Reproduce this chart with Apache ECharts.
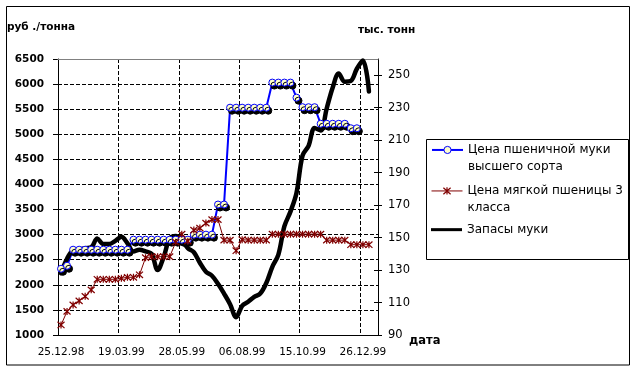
<!DOCTYPE html>
<html><head><meta charset="utf-8">
<script src="https://cdn.jsdelivr.net/npm/echarts@6/dist/echarts.min.js"></script>
<style>html,body{margin:0;padding:0;background:#fff}#c{width:640px;height:373px}</style>
</head><body><div id="c"></div>
<script>
// Tick labels of the category axis (one every 10 categories)
const dateLabels = ['25.12.98', '19.03.99', '28.05.99', '06.08.99', '15.10.99', '26.12.99'];
const categoryCount = 53;
const categories = Array.from({length: categoryCount}, (_, i) => String(i));

// Series names
const nameFlour = 'Цена пшеничной муки высшего сорта';
const nameWheat = 'Цена мягкой пшеницы 3 класса';
const nameStock = 'Запасы муки';

// руб./тонна (left axis)
const flourPrice = [
  2320, 2380,
  2700, 2700, 2700, 2700, 2700, 2700, 2700, 2700, 2700, 2700,
  2900, 2900, 2900, 2900, 2900, 2900, 2900, 2900, 2900, 2900,
  3000, 3000, 3000, 3000,
  3600, 3600,
  5530, 5530, 5530, 5530, 5530, 5530, 5530,
  6030, 6030, 6030, 6030,
  5730,
  5540, 5540, 5540,
  5210, 5210, 5210, 5210, 5210,
  5120, 5120
];
const wheatPrice = [
  1200, 1470, 1600, 1680, 1770, 1900, 2110, 2110, 2110, 2110,
  2130, 2150, 2150, 2200, 2540, 2560, 2560, 2560, 2560, 2850,
  3010, 2870, 3090, 3130, 3230, 3300, 3300, 2890, 2890, 2680,
  2900, 2890, 2890, 2890, 2890,
  3010, 3010, 3010, 3010, 3010, 3010, 3010, 3010, 3010,
  2890, 2890, 2890, 2890,
  2800, 2800, 2800, 2800
];
// тыс. тонн (right axis)
const flourStocks = [
  128, 137, 142, 142.5, 143.5, 144, 149.5, 146, 146, 148,
  150.5, 146.5, 141.5, 142.5, 141.5, 140, 130, 138, 149.5, 151,
  148.5, 143.5, 141, 134.5, 129, 126.5, 121.5, 115.5, 109, 101,
  108, 110.5, 113.5, 115.5, 122, 132, 139.5, 157, 166, 177.5,
  200.5, 206.5, 217.5, 216, 229.5, 242.5, 251, 246, 246.5, 254,
  259, 240
];
const rightTickValues = [90, 110, 130, 150, 170, 190, 210, 230, 250];

const FONT = '"DejaVu Sans", Verdana, sans-serif';
const starPath = 'path://M5,0L5,10M0.5,0.5L9.5,9.5M0.5,9.5L9.5,0.5';

const chart = echarts.init(document.getElementById('c'), null, {renderer: 'canvas', width: 640, height: 373});

const legendText = {
  [nameFlour]: '\nЦена пшеничной муки\nвысшего сорта',
  [nameWheat]: '\nЦена мягкой пшеницы 3\nкласса',
  [nameStock]: 'Запасы муки'
};
const legendTextStyle = {fontFamily: FONT, fontSize: 12, lineHeight: 17.3, color: '#000'};
const noShadow = {shadowColor: 'rgba(0,0,0,0)', shadowBlur: 0, shadowOffsetX: 0, shadowOffsetY: 0};
const gridLineStyle = {color: '#000000', width: 1, type: 'dashed', dashOffset: 0, opacity: 1};

chart.setOption({
  animation: false,
  backgroundColor: '#fff',
  textStyle: {fontFamily: FONT},
  grid: {left: 58, top: 59, width: 320, height: 276},
  graphic: [
    {type: 'rect', silent: true, shape: {x: 6.5, y: 6.5, width: 623, height: 358.5},
     style: {fill: null, stroke: '#000', lineWidth: 1}},
    {type: 'rect', silent: true, shape: {x: 426.5, y: 139.5, width: 202, height: 120},
     style: {fill: '#fff', stroke: '#000', lineWidth: 1}},
    {type: 'text', style: {x: 7, y: 27.5, text: 'руб ./тонна', font: 'bold 10.5px ' + FONT, fill: '#000', verticalAlign: 'middle'}},
    {type: 'text', style: {x: 358, y: 30.5, text: 'тыс. тонн', font: 'bold 10.5px ' + FONT, fill: '#000', verticalAlign: 'middle'}},
    {type: 'text', style: {x: 409, y: 341.5, text: 'дата', font: 'bold 11.5px ' + FONT, fill: '#000', verticalAlign: 'middle'}}
  ],
  legend: [
    {data: [nameFlour], left: 431, top: 124, padding: 0, itemWidth: 31, itemHeight: 9,
     selectedMode: false, formatter: n => legendText[n], textStyle: legendTextStyle,
     lineStyle: {width: 2}, itemStyle: Object.assign({borderWidth: 1}, noShadow)},
    {data: [nameWheat], left: 431, top: 165, padding: 0, itemWidth: 31, itemHeight: 9,
     selectedMode: false, formatter: n => legendText[n], textStyle: legendTextStyle,
     lineStyle: {width: 1}, itemStyle: Object.assign({borderWidth: 1.2}, noShadow)},
    {data: [{name: nameStock, icon: 'rect'}], left: 431, top: 221, padding: 0, itemWidth: 31, itemHeight: 3,
     selectedMode: false, formatter: n => legendText[n], textStyle: legendTextStyle,
     itemStyle: noShadow}
  ],
  xAxis: [
    {
      type: 'category', data: categories, boundaryGap: true, position: 'bottom',
      axisLine: {lineStyle: {color: '#000', width: 1}},
      axisTick: {show: false},
      axisLabel: {interval: 9, margin: 12, color: '#000', fontSize: 10.5, fontFamily: FONT,
        formatter: (v, i) => dateLabels[Math.round(i / 10)] || ''},
      splitLine: {show: true, interval: 9, lineStyle: gridLineStyle}
    },
    {
      type: 'value', position: 'top', min: 0, max: 1, z: 3,
      axisLine: {show: true, onZero: false, lineStyle: {color: '#808080', width: 1}},
      axisTick: {show: false}, axisLabel: {show: false}, splitLine: {show: false}
    }
  ],
  yAxis: [
    {
      type: 'value', position: 'left', min: 1000, max: 6500, interval: 500,
      axisLine: {show: true, lineStyle: {color: '#000', width: 1}},
      axisTick: {show: true, length: 5, lineStyle: {color: '#000'}},
      axisLabel: {margin: 14, color: '#000', fontSize: 10.5, fontWeight: 'bold', fontFamily: FONT,
        formatter: v => String(v)},
      splitLine: {show: true, lineStyle: gridLineStyle}
    },
    {
      type: 'value', position: 'right', min: 90, max: 260,
      axisLine: {show: true, lineStyle: {color: '#000', width: 1}},
      axisTick: {show: true, length: 4, customValues: rightTickValues, lineStyle: {color: '#000'}},
      axisLabel: {margin: 10, color: '#000', fontSize: 11.5, fontFamily: FONT, customValues: rightTickValues},
      splitLine: {show: false}
    },
    {
      type: 'value', position: 'right', min: 90, max: 260,
      axisLine: {show: false},
      axisTick: {show: true, inside: true, length: 4, customValues: rightTickValues, lineStyle: {color: '#000'}},
      axisLabel: {show: false},
      splitLine: {show: false}
    }
  ],
  series: [
    {
      name: nameFlour, type: 'line', xAxisIndex: 0, yAxisIndex: 0, data: flourPrice,
      symbol: 'circle', symbolSize: 7, showAllSymbol: true,
      lineStyle: {color: '#0000FF', width: 2},
      itemStyle: {color: '#FFFFCC', borderColor: '#0000FF', borderWidth: 1,
        shadowColor: '#000', shadowBlur: 0, shadowOffsetX: 2, shadowOffsetY: 3},
      emphasis: {disabled: true}
    },
    {
      name: nameWheat, type: 'line', xAxisIndex: 0, yAxisIndex: 0, data: wheatPrice,
      symbol: starPath, symbolSize: 7, showAllSymbol: true,
      lineStyle: {color: '#800000', width: 1},
      itemStyle: {color: '#800000', borderColor: '#800000', borderWidth: 1.2},
      emphasis: {disabled: true}
    },
    {
      name: nameStock, type: 'line', xAxisIndex: 0, yAxisIndex: 1, data: flourStocks,
      symbol: 'none', smooth: 0.35,
      lineStyle: {color: '#000', width: 4.5, cap: 'round', join: 'round'},
      itemStyle: {color: '#000'},
      emphasis: {disabled: true}
    }
  ]
});
</script>
</body></html>
